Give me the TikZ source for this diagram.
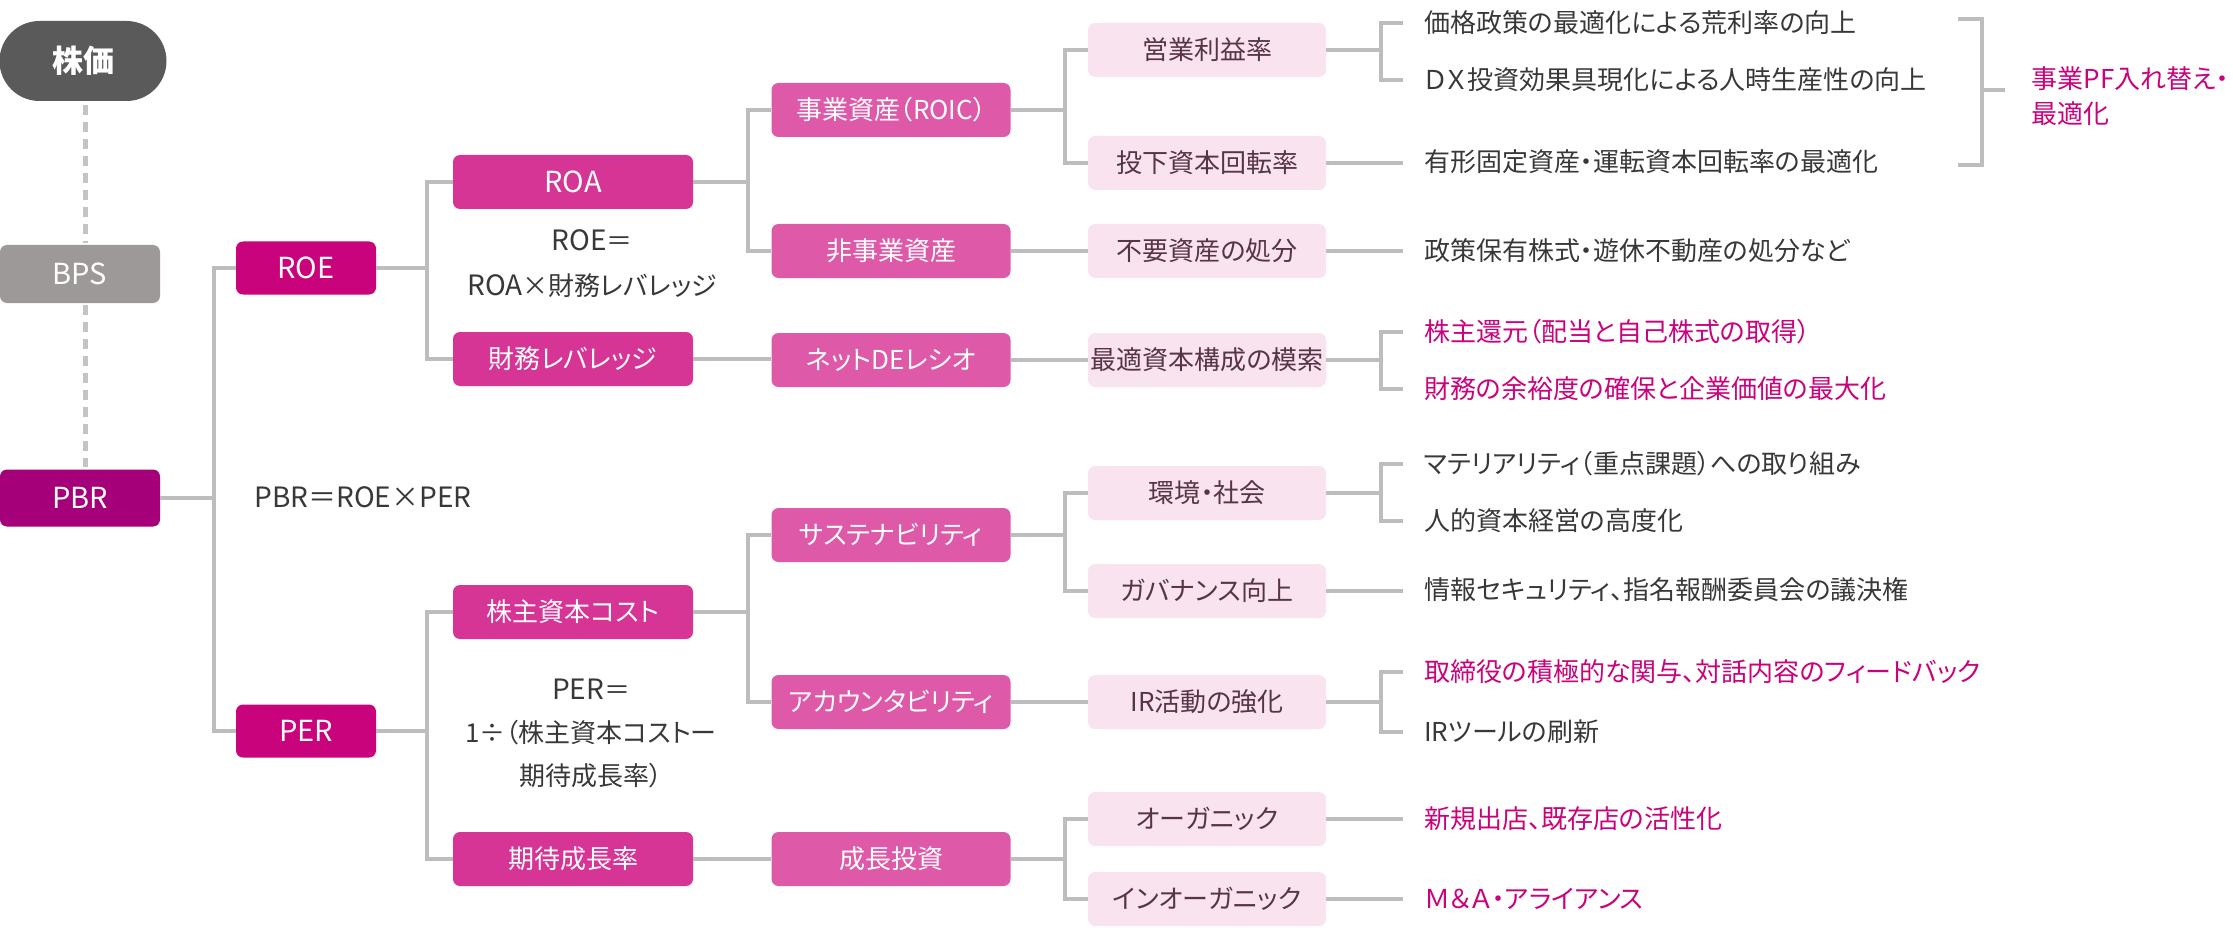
\documentclass[tikz,border=0pt]{standalone}
\usepackage{fontspec}
\setmainfont{Noto Sans CJK JP}[RawFeature=+palt]
\usetikzlibrary{calc}
\definecolor{cStock}{HTML}{5A5A5A}
\definecolor{cBPS}{HTML}{9D9998}
\definecolor{cPBR}{HTML}{A5007A}
\definecolor{cLa}{HTML}{C8037C}
\definecolor{cLb}{HTML}{D63595}
\definecolor{cLc}{HTML}{DE5AA8}
\definecolor{cLd}{HTML}{F8E3EF}
\definecolor{cLdt}{HTML}{573448}
\definecolor{cTxt}{HTML}{383838}
\definecolor{cPink}{HTML}{C8037C}
\definecolor{cLine}{HTML}{BDBDBD}
\definecolor{cDash}{HTML}{C4C4C4}
\begin{document}
\begin{tikzpicture}[x=1pt,y=-1pt,
  box/.style={rounded corners=7pt, inner sep=0pt, text=white, font=\fontsize{26}{30}\selectfont},
  latin/.style={font=\fontsize{29}{32}\selectfont},
  boxz/.style={box, fill=cPBR, minimum width=160pt, minimum height=57pt},
  boxa/.style={box, fill=cLa, minimum width=140pt, minimum height=53pt},
  boxb/.style={box, fill=cLb, minimum width=240pt, minimum height=54pt},
  boxc/.style={box, fill=cLc, minimum width=239pt, minimum height=54pt},
  boxd/.style={box, fill=cLd, text=cLdt, minimum width=238pt, minimum height=54pt},
  leaf/.style={anchor=west, inner xsep=21pt, inner ysep=2pt, text=cTxt, font=\fontsize{26}{30}\selectfont},
  leafp/.style={leaf, text=cPink},
  formula/.style={text=cTxt, align=center, font=\fontsize{26}{45}\selectfont},
  conn/.style={draw=cLine, line width=4pt},
  dashconn/.style={draw=cDash, line width=5pt, dash pattern=on 10pt off 7pt}
]
\useasboundingbox (0,0) rectangle (2233,936);
% left column
\node[fill=cStock, rounded corners=40pt, minimum width=167pt, minimum height=80pt, inner sep=0pt, text=white, font=\fontsize{31}{34}\selectfont\bfseries] (stock) at (83,61) {株価};
\node[box, latin, fill=cBPS, minimum width=160pt, minimum height=58pt] (bps) at (80,274) {BPS};
\node[boxz, latin] (pbr) at (80,498) {PBR};
\draw[dashconn] (stock.south -| 85,0) ++(0,4) -- ($(bps.north -| 85,0)+(0,-2)$);
\draw[dashconn] ($(bps.south -| 85,0)+(0,2)$) -- ($(pbr.north -| 85,0)+(0,-2)$);
% level a
\node[boxa, latin] (roe) at (306,268) {ROE};
\node[boxa, latin] (per) at (306,731) {PER};
% level b
\node[boxb, latin] (roa) at (573,182) {ROA};
\node[boxb] (lev) at (573,359) {財務レバレッジ};
\node[boxb] (coe) at (573,612) {株主資本コスト};
\node[boxb] (gro) at (573,859) {期待成長率};
% level c
\node[boxc] (roic) at (891,110) {事業資産（ROIC）};
\node[boxc] (nonop) at (891,251) {非事業資産};
\node[boxc] (de) at (891,360) {ネットDEレシオ};
\node[boxc] (sus) at (891,535) {サステナビリティ};
\node[boxc] (acc) at (891,702) {アカウンタビリティ};
\node[boxc] (inv) at (891,859) {成長投資};
% level d
\node[boxd] (opm) at (1207,50) {営業利益率};
\node[boxd] (turn) at (1207,163) {投下資本回転率};
\node[boxd] (disp) at (1207,251) {不要資産の処分};
\node[boxd] (cap) at (1207,360) {最適資本構成の模索};
\node[boxd] (env) at (1207,493) {環境・社会};
\node[boxd] (gov) at (1207,591) {ガバナンス向上};
\node[boxd] (ir) at (1207,702) {IR活動の強化};
\node[boxd] (org) at (1207,819) {オーガニック};
\node[boxd] (inorg) at (1207,899) {インオーガニック};
% leaves
\node[leaf] (e1) at (1403,23) {価格政策の最適化による荒利率の向上};
\node[leaf] (e2) at (1403,80) {ＤＸ投資効果具現化による人時生産性の向上};
\node[leaf] (e3) at (1403,162) {有形固定資産・運転資本回転率の最適化};
\node[leaf] (e4) at (1403,251) {政策保有株式・遊休不動産の処分など};
\node[leafp] (e5) at (1403,332) {株主還元（配当と自己株式の取得）};
\node[leafp] (e6) at (1403,389) {財務の余裕度の確保と企業価値の最大化};
\node[leaf] (e7) at (1403,464) {マテリアリティ（重点課題）への取り組み};
\node[leaf] (e8) at (1403,521) {人的資本経営の高度化};
\node[leaf] (e9) at (1403,590) {情報セキュリティ、指名報酬委員会の議決権};
\node[leafp] (e10) at (1403,672) {取締役の積極的な関与、対話内容のフィードバック};
\node[leaf] (e11) at (1403,732) {IRツールの刷新};
\node[leafp] (e12) at (1403,819) {新規出店、既存店の活性化};
\node[leafp] (e13) at (1403,899) {Ｍ＆Ａ・アライアンス};
% formulas
\node[formula] (f1) at (592,264) {{\fontsize{28}{45}\selectfont ROE}＝\\{\fontsize{28}{45}\selectfont ROA}×財務レバレッジ};
\node[formula, anchor=west, font=\fontsize{28}{45}\selectfont] (f0) at (251,497) {PBR＝ROE×PER};
\node[formula, font=\fontsize{26}{43}\selectfont] (f2) at (591,733) {{\fontsize{28}{43}\selectfont PER}＝\\1÷（株主資本コストー\\期待成長率）};
% right bracket
\node[text=cPink, anchor=west, align=left, font=\fontsize{26}{35}\selectfont] (pf) at (2028,96) {事業PF入れ替え・\\最適化};
\coordinate (bt) at (1958,19);
\coordinate (bb) at (1958,165);
\coordinate (bm) at (1982,90);
\coordinate (bmr) at (2005,90);
\draw[conn] (bt) -| (bb -| bm) -- (bb);
\draw[conn] (bm) -- (bmr);
% connectors
\draw[conn] (pbr.east) -- ++(54,0) |- (roe.west);
\draw[conn] (pbr.east) -- ++(54,0) |- (per.west);
\draw[conn] (roe.east) -- ++(51,0) |- (roa.west);
\draw[conn] (roe.east) -- ++(51,0) |- (lev.west);
\draw[conn] (per.east) -- ++(51,0) |- (coe.west);
\draw[conn] (per.east) -- ++(51,0) |- (gro.west);
\draw[conn] (roa.east) -- ++(55,0) |- (roic.west);
\draw[conn] (roa.east) -- ++(55,0) |- (nonop.west);
\draw[conn] (lev.east) -- (lev.east -| de.west);
\draw[conn] (coe.east) -- ++(55,0) |- (sus.west);
\draw[conn] (coe.east) -- ++(55,0) |- (acc.west);
\draw[conn] (gro.east) -- (gro.east -| inv.west);
\draw[conn] (roic.east) -- ++(54,0) |- (opm.west);
\draw[conn] (roic.east) -- ++(54,0) |- (turn.west);
\draw[conn] (nonop.east) -- (nonop.east -| disp.west);
\draw[conn] (de.east) -- (de.east -| cap.west);
\draw[conn] (sus.east) -- ++(54,0) |- (env.west);
\draw[conn] (sus.east) -- ++(54,0) |- (gov.west);
\draw[conn] (acc.east) -- (acc.east -| ir.west);
\draw[conn] (inv.east) -- ++(54,0) |- (org.west);
\draw[conn] (inv.east) -- ++(54,0) |- (inorg.west);
\draw[conn] (opm.east) -- ++(55,0) |- (e1.west);
\draw[conn] (opm.east) -- ++(55,0) |- (e2.west);
\draw[conn] (turn.east) -- (turn.east -| e3.west);
\draw[conn] (disp.east) -- (disp.east -| e4.west);
\draw[conn] (cap.east) -- ++(55,0) |- (e5.west);
\draw[conn] (cap.east) -- ++(55,0) |- (e6.west);
\draw[conn] (env.east) -- ++(55,0) |- (e7.west);
\draw[conn] (env.east) -- ++(55,0) |- (e8.west);
\draw[conn] (gov.east) -- (gov.east -| e9.west);
\draw[conn] (ir.east) -- ++(55,0) |- (e10.west);
\draw[conn] (ir.east) -- ++(55,0) |- (e11.west);
\draw[conn] (org.east) -- (org.east -| e12.west);
\draw[conn] (inorg.east) -- (inorg.east -| e13.west);
\end{tikzpicture}
\end{document}
